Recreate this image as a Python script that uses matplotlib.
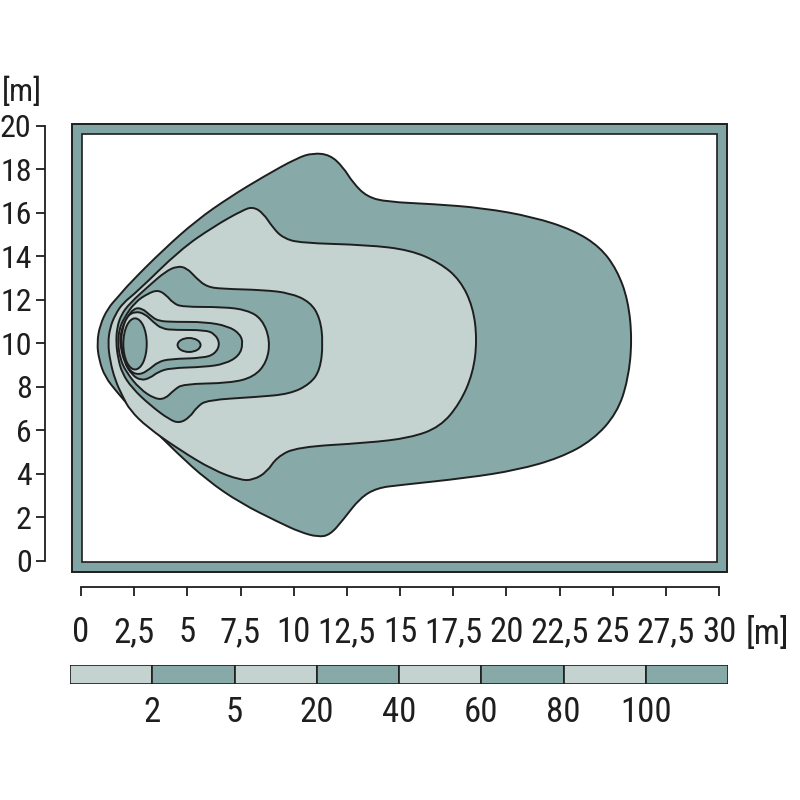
"""
Isolux diagram: illuminance contours (lx) of a work light on a 30 x 20 m floor.
"""

import numpy as np
import matplotlib.pyplot as plt
from matplotlib import font_manager
from matplotlib.path import Path
from matplotlib.patches import PathPatch, Rectangle, Ellipse


def pick_narrow_font():
    """First narrow family that is really installed, else a fairly narrow one."""
    for fam in ['Liberation Sans Narrow', 'DejaVu Sans Condensed', 'Roboto Condensed',
                'Open Sans Condensed']:
        try:
            font_manager.findfont(fam, fallback_to_default=False)
            return fam, 'normal'
        except ValueError:
            pass
    path = font_manager.findfont(font_manager.FontProperties(family='DejaVu Sans',
                                                             stretch='condensed'))
    if 'Condensed' in path:
        return 'DejaVu Sans', 'condensed'
    return 'Lato', 'normal'


FONT, STRETCH = pick_narrow_font()
plt.rcParams['font.family'] = [FONT, 'DejaVu Sans']
plt.rcParams['font.stretch'] = STRETCH

DARK = '#87a9a8'
LIGHT = '#c4d3d0'
FRAME = '#80a5a4'
INK = '#1e1e1e'
FS = 25
FS_Y = 23

# isolux lines, metres (outline points)
lux_2_x = [0.75, 0.89, 1.27, 1.74, 2.30, 3.86, 5.45, 7.01, 8.56, 10.16, 10.91, 11.71, 12.32,
           12.79, 13.45, 14.39, 16.55, 18.90, 21.25, 23.13, 24.40, 25.20, 25.72, 25.91, 25.72,
           25.20, 24.07, 22.52, 20.50, 18.15, 15.00, 13.92, 13.12, 12.32, 11.71, 11.14, 10.30,
           9.36, 7.48, 5.92, 4.51, 3.10, 2.30, 1.69, 1.13, 0.85]
lux_2_y = [10.02, 10.85, 11.63, 12.14, 12.78, 14.30, 15.68, 16.74, 17.66, 18.53, 18.76, 18.67, 18.11,
           17.38, 16.74, 16.51, 16.41, 16.23, 15.82, 15.22, 14.44, 13.38, 12.00, 10.16, 8.32,
           6.80, 5.56, 4.74, 4.18, 3.82, 3.49, 3.36, 2.90, 1.89, 1.20, 1.10, 1.33,
           1.75, 2.67, 3.72, 4.97, 6.34, 7.08, 7.77, 8.46, 9.24]

lux_5_x = [1.27, 1.36, 1.60, 1.97, 2.63, 4.65, 6.21, 7.62, 8.09, 8.56, 9.03, 9.50, 10.30, 13.45,
           15.47, 16.88, 17.82, 18.43, 18.62, 18.43, 17.82, 16.88, 15.47, 13.45, 10.16, 9.21,
           8.74, 8.09, 7.48, 6.21, 4.65, 3.10, 2.30, 1.97, 1.60, 1.36]
lux_5_y = [10.02, 10.71, 11.31, 11.86, 12.37, 14.30, 15.36, 16.14, 16.28, 16.00, 15.31, 14.85, 14.62, 14.53,
           14.30, 13.70, 12.92, 11.68, 10.16, 8.64, 7.26, 6.16, 5.66, 5.43, 5.24, 4.78,
           4.09, 3.72, 3.72, 4.18, 5.10, 6.16, 6.94, 7.54, 8.32, 9.24]

lux_20_x = [1.65, 1.69, 1.88, 2.30, 3.24, 3.95, 4.51, 4.98, 5.41, 5.92, 6.68, 8.56, 9.83, 10.77,
            11.24, 11.38, 11.24, 10.77, 9.83, 8.27, 5.92, 5.45, 5.12, 4.65, 4.18, 3.24, 2.40,
            1.93, 1.74]
lux_20_y = [10.02, 10.71, 11.31, 11.86, 12.69, 13.29, 13.56, 13.47, 13.01, 12.60, 12.51, 12.46, 12.32, 11.91,
            11.17, 10.02, 8.78, 8.14, 7.68, 7.54, 7.40, 7.08, 6.62, 6.34, 6.48, 7.17, 7.95,
            8.64, 9.33]

lux_40_x = [1.74, 1.79, 2.02, 2.54, 3.15, 3.62, 4.00, 4.33, 4.75, 6.68, 7.80, 8.51, 8.89, 8.74,
            8.13, 7.01, 4.80, 4.37, 3.95, 3.48, 2.77, 2.12, 1.83]
lux_40_y = [10.02, 10.62, 11.17, 11.90, 12.30, 12.46, 12.23, 11.86, 11.68, 11.68, 11.54, 11.13, 10.16, 9.15,
            8.46, 8.18, 8.14, 7.86, 7.45, 7.45, 7.90, 8.69, 9.33]

lux_60_x = [1.83, 1.88, 2.12, 2.49, 2.87, 3.24, 3.62, 4.42, 5.83, 6.91, 7.48, 7.62, 7.43, 6.77,
            5.83, 4.18, 3.62, 3.24, 2.82, 2.40, 2.02]
lux_60_y = [10.02, 10.55, 11.15, 11.62, 11.62, 11.30, 11.03, 10.99, 10.99, 10.80, 10.44, 9.98, 9.43, 9.06,
            8.92, 8.87, 8.69, 8.41, 8.30, 8.55, 9.15]

lux_80_x = [1.88, 1.93, 2.16, 2.54, 3.01, 3.39, 3.81, 4.42, 5.83, 6.30, 6.54, 6.30, 5.74, 4.18,
            3.62, 3.24, 2.77, 2.30, 2.02]
lux_80_y = [10.02, 10.62, 11.25, 11.48, 11.36, 10.99, 10.67, 10.62, 10.62, 10.44, 9.98, 9.52, 9.33, 9.29,
            9.15, 8.83, 8.55, 8.70, 9.33]

# above 100 lx: two small islands (centre x, centre y, width, height)
lux_100_islands = [(2.54, 9.98, 1.10, 2.35), (5.08, 9.93, 1.08, 0.64)]

x_ticks = [0, 2.5, 5, 7.5, 10, 12.5, 15, 17.5, 20, 22.5, 25, 27.5, 30]
x_tick_labels = ['0', '2,5', '5', '7,5', '10', '12,5', '15', '17,5', '20', '22,5', '25', '27,5', '30']
y_ticks = [0, 2, 4, 6, 8, 10, 12, 14, 16, 18, 20]

legend_levels = ['2', '5', '20', '40', '60', '80', '100']
legend_colors = [LIGHT, DARK, LIGHT, DARK, LIGHT, DARK, LIGHT, DARK]


def smooth_closed(xs, ys):
    """Closed quadratic B-spline path with the given points as control points."""
    pts = np.column_stack([xs, ys])
    mids = (pts + np.roll(pts, -1, axis=0)) / 2
    verts = [mids[-1]]
    codes = [Path.MOVETO]
    for p, m in zip(pts, mids):
        verts += [p, m]
        codes += [Path.CURVE3, Path.CURVE3]
    verts.append(mids[-1])
    codes.append(Path.CLOSEPOLY)
    return Path(verts, codes)


fig = plt.figure(figsize=(8, 8), dpi=100)
fig.patch.set_facecolor('white')

ax = fig.add_axes([0.09, 0.285, 0.81875, 0.56])
ax.set_xlim(-0.423, 30.37)
ax.set_ylim(-0.506, 20.09)
ax.patch.set_visible(False)

# thick frame round the floor area
ax.add_patch(Rectangle((0, 0), 1, 1, transform=ax.transAxes, fc=FRAME, ec=INK, lw=1.4,
                       clip_on=False, zorder=0))
ax.add_patch(Rectangle((0.0153, 0.0223), 0.9694, 0.9554, transform=ax.transAxes, fc='white',
                       ec=INK, lw=1.2, zorder=0.5))

contours = [(lux_2_x, lux_2_y, DARK), (lux_5_x, lux_5_y, LIGHT), (lux_20_x, lux_20_y, DARK),
            (lux_40_x, lux_40_y, LIGHT), (lux_60_x, lux_60_y, DARK), (lux_80_x, lux_80_y, LIGHT)]
for i, (xs, ys, col) in enumerate(contours):
    ax.add_patch(PathPatch(smooth_closed(xs, ys), fc=col, ec=INK, lw=1.4, zorder=1 + i))
for cx, cy, w, h in lux_100_islands:
    ax.add_patch(Ellipse((cx, cy), w, h, fc=DARK, ec=INK, lw=1.4, zorder=8))

for side in ['top', 'right']:
    ax.spines[side].set_visible(False)
ax.spines['bottom'].set_position(('outward', 11))
ax.spines['bottom'].set_bounds(0, 30)
ax.spines['left'].set_position(('outward', 19.5))
ax.spines['left'].set_bounds(0, 20)
for side in ['bottom', 'left']:
    ax.spines[side].set_linewidth(1.3)
    ax.spines[side].set_color(INK)

ax.set_xticks(x_ticks, x_tick_labels)
ax.set_yticks(y_ticks)
ax.tick_params(axis='both', length=6.5, width=1.3, color=INK, labelcolor=INK)
ax.tick_params(axis='x', pad=14, labelsize=FS)
ax.tick_params(axis='y', pad=3, labelsize=FS_Y)

fig.text(22 / 800, 1 - 92 / 800, '[m]', fontsize=FS_Y, color=INK, ha='center', va='center')
fig.text(767 / 800, 1 - 634 / 800, '[m]', fontsize=FS, color=INK, ha='center', va='center')

# legend strip of illuminance classes
lg = fig.add_axes([70 / 800, 1 - 684 / 800, 658 / 800, 19 / 800])
lg.bar(np.arange(len(legend_colors)), np.ones(len(legend_colors)), width=1, align='edge',
       color=legend_colors, edgecolor=INK, linewidth=1.2)
lg.set_xlim(0, len(legend_colors))
lg.set_ylim(0, 1)
lg.set_xticks(np.arange(1, len(legend_colors)), legend_levels)
lg.set_yticks([])
lg.tick_params(axis='x', length=0, pad=9, labelsize=FS, labelcolor=INK)
for s in lg.spines.values():
    s.set_visible(False)

fig.savefig('out.png', dpi=100, facecolor='white')
